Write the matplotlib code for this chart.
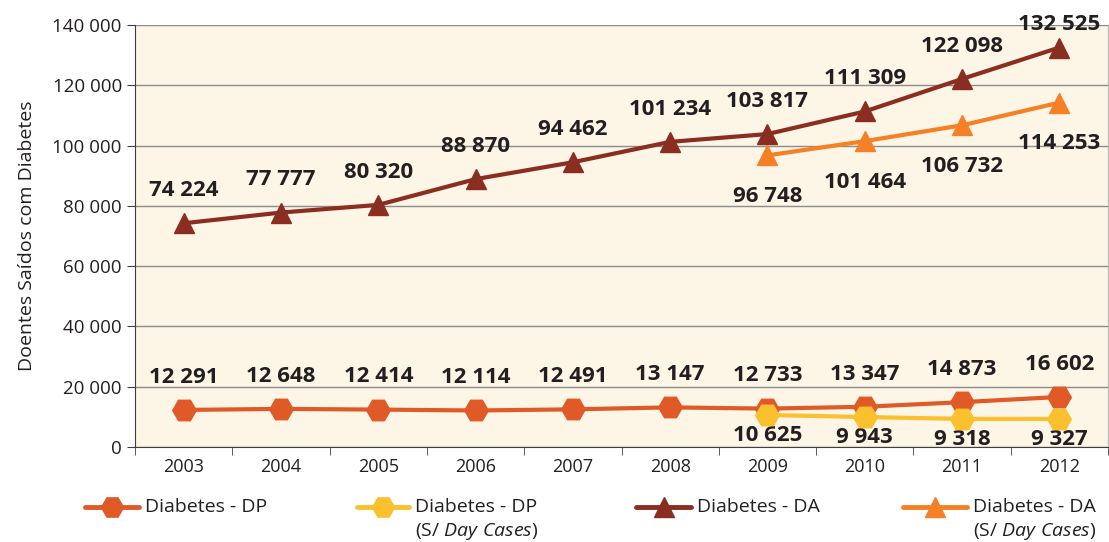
import matplotlib
matplotlib.use("Agg")
import matplotlib.pyplot as plt
from matplotlib.lines import Line2D
from matplotlib.ticker import FuncFormatter, MultipleLocator, FixedLocator

plt.rcParams['font.family'] = ['Open Sans', 'DejaVu Sans']
plt.rcParams['mathtext.fontset'] = 'custom'
plt.rcParams['mathtext.it'] = 'Open Sans:italic'
plt.rcParams['mathtext.rm'] = 'Open Sans'

years = ['2003', '2004', '2005', '2006', '2007', '2008', '2009', '2010', '2011', '2012']
dp = [12291, 12648, 12414, 12114, 12491, 13147, 12733, 13347, 14873, 16602]
dp_sdc = [10625, 9943, 9318, 9327]
da = [74224, 77777, 80320, 88870, 94462, 101234, 103817, 111309, 122098, 132525]
da_sdc = [96748, 101464, 106732, 114253]
sdc_start = 6

c_dp = '#E05A28'
c_dps = '#FBC02D'
c_da = '#8B2E22'
c_das = '#F58025'
txt_c = '#231F20'

W, H = 1109, 542
fig = plt.figure(figsize=(W/100, H/100), dpi=100)
ax = fig.add_axes([135/W, 1-447/H, (1108-135)/W, (447-25)/H])
ax.set_facecolor('#FDF5E6')

x = list(range(len(years)))
xs = x[sdc_start:]

ax.plot(x, dp, color=c_dp, lw=3, marker='H', ms=17, zorder=3)
ax.plot(xs, dp_sdc, color=c_dps, lw=3, marker='H', ms=17, zorder=4)
ax.plot(x, da, color=c_da, lw=3, marker='^', ms=14, zorder=3)
ax.plot(xs, da_sdc, color=c_das, lw=3, marker='^', ms=14, zorder=4)

def fmt(v):
    return f"{v:,}".replace(',', ' ')

lab = dict(fontsize=16, fontweight='bold', color=txt_c, ha='center', annotation_clip=False)
for i, v in enumerate(dp):
    ax.annotate(fmt(v), (i, v), xytext=(0, 16), textcoords='offset points', va='bottom', **lab)
for i, v in zip(xs, dp_sdc):
    ax.annotate(fmt(v), (i, v), xytext=(0, -7), textcoords='offset points', va='top', **lab)
for i, v in enumerate(da):
    off = 16 if i < len(da) - 1 else 9
    ax.annotate(fmt(v), (i, v), xytext=(0, off), textcoords='offset points', va='bottom', **lab)
for i, v in zip(xs, da_sdc):
    ax.annotate(fmt(v), (i, v), xytext=(0, -22), textcoords='offset points', va='top', **lab)

ax.set_xlim(-0.5, len(years) - 0.5)
ax.set_ylim(0, 140000)
ax.yaxis.set_major_locator(MultipleLocator(20000))
ax.yaxis.set_major_formatter(FuncFormatter(lambda v, p: fmt(int(v))))
ax.set_xticks(x)
ax.set_xticklabels(years)
ax.xaxis.set_minor_locator(FixedLocator([i - 0.5 for i in range(len(years) + 1)]))
ax.tick_params(axis='x', which='major', length=0, labelsize=13, pad=8, colors=txt_c)
ax.tick_params(axis='x', which='minor', length=6, color='#404040')
ax.tick_params(axis='y', length=6, labelsize=13.5, color='#404040', labelcolor=txt_c)
ax.grid(axis='y', color='#8C8C8C', lw=1)
ax.set_axisbelow(True)
for s in ['top', 'right']:
    ax.spines[s].set_visible(False)
ax.spines['left'].set_color('#404040')
ax.spines['bottom'].set_color('#404040')
ax.plot([1, 1], [0, 1], transform=ax.transAxes, color='#BFBFBF', lw=1, clip_on=False)
ax.set_ylabel('Doentes Saídos com Diabetes', fontsize=14, color=txt_c, labelpad=12)

# legend drawn in figure pixel coordinates
entries = [
    (c_dp, 'H', 16, 'Diabetes - DP', None, 85, 145),
    (c_dps, 'H', 16, 'Diabetes - DP', '(S/ $\\mathit{Day\\ Cases}$)', 357, 415),
    (c_da, '^', 14, 'Diabetes - DA', None, 636, 697),
    (c_das, '^', 14, 'Diabetes - DA', '(S/ $\\mathit{Day\\ Cases}$)', 903, 973),
]
ly = 507
for col, mk, ms, t1, t2, x0, tx in entries:
    x1 = tx - 6
    fig.add_artist(Line2D([x0/W, x1/W], [1-ly/H]*2, color=col, lw=3.5, solid_capstyle='round',
                          transform=fig.transFigure))
    fig.add_artist(Line2D([(x0+x1)/2/W], [1-ly/H], color=col, marker=mk, ms=ms, lw=0,
                          transform=fig.transFigure))
    fig.text(tx/W, 1-ly/H, t1, fontsize=14, color=txt_c, va='center', ha='left')
    if t2:
        fig.text(tx/W, 1-(ly+25)/H, t2, fontsize=14, color=txt_c, va='center', ha='left')

fig.savefig('out.png', dpi=100)
